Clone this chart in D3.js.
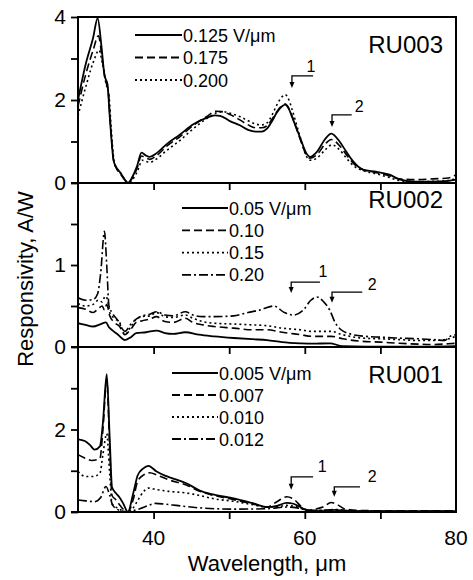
<!DOCTYPE html>
<html><head><meta charset="utf-8">
<script src="https://cdn.jsdelivr.net/npm/d3@7"></script>
<style>
html,body{margin:0;padding:0;background:#fff;}
svg{display:block;font-family:"Liberation Sans",Arial,Helvetica,sans-serif;}
</style></head>
<body><svg id="chart" width="473" height="580"></svg>
<script>
// ---------------- DATA ----------------
const xDomain = [30, 80];
const xTicks = [40, 50, 60, 70];
const xTickLabels = [40, 60, 80];

// RU003
const ru003Legend = ["0.125 V/\u03bcm", "0.175", "0.200"];
const ru003_0125 = [[30,2.0],[31,2.85],[32,3.5],[32.6,3.97],[33.1,3.3],[33.5,2.6],[33.9,2.38],[34.2,1.6],[34.7,0.55],[35,0.4],[35.6,0.25],[36.2,0.08],[36.6,0],[37.2,0.15],[37.8,0.4],[38.4,0.73],[39,0.66],[39.5,0.63],[40.4,0.72],[41.7,0.93],[43.5,1.17],[45.2,1.41],[47,1.57],[48.1,1.63],[48.8,1.62],[50.1,1.49],[51.4,1.39],[52.5,1.28],[53.5,1.24],[54.3,1.24],[55,1.31],[55.7,1.5],[56.3,1.7],[57,1.85],[57.4,1.89],[57.9,1.78],[58.3,1.6],[59.4,1.08],[60.2,0.72],[60.7,0.63],[61.6,0.75],[62.7,1.06],[63.5,1.19],[64.6,1.0],[65.5,0.75],[66.4,0.52],[67.7,0.32],[69.5,0.27],[71.2,0.2],[72.5,0.09],[74.7,0.03],[77,0.03],[79,0.05],[80,0.08]];
const ru003_0175 = [[30,1.85],[31,2.6],[32,3.2],[32.7,3.55],[33.2,3.0],[33.6,2.5],[34,2.2],[34.3,1.4],[34.7,0.55],[35,0.38],[35.6,0.22],[36.2,0.07],[36.6,0],[37.2,0.12],[37.8,0.35],[38.4,0.65],[39,0.6],[39.5,0.57],[40.4,0.66],[41.7,0.88],[43.5,1.12],[45.2,1.38],[47,1.6],[48.3,1.73],[49,1.72],[50.1,1.65],[51.4,1.52],[52.5,1.4],[53.5,1.33],[54.3,1.33],[55,1.38],[55.7,1.55],[56.3,1.72],[57,1.87],[57.4,1.9],[57.9,1.8],[58.3,1.62],[59.4,1.05],[60.2,0.68],[60.7,0.6],[61.6,0.68],[62.7,0.94],[63.5,1.05],[64.6,0.9],[65.5,0.68],[66.4,0.48],[67.7,0.32],[69.5,0.25],[71.2,0.17],[72.5,0.1],[74.7,0.08],[77,0.1],[79,0.12],[80,0.2]];
const ru003_0200 = [[30,1.62],[31,2.3],[32,2.9],[32.8,3.2],[33.2,2.9],[33.7,2.4],[34.1,2.1],[34.4,1.3],[34.8,0.5],[35.2,0.33],[35.8,0.2],[36.3,0.05],[36.7,0],[37.3,0.1],[37.9,0.3],[38.5,0.55],[39,0.52],[39.5,0.5],[40.4,0.58],[41.7,0.78],[43.5,1.03],[45.2,1.3],[47,1.55],[48.5,1.7],[49.2,1.72],[50.1,1.68],[51.4,1.6],[52.5,1.5],[53.5,1.42],[54.3,1.4],[55,1.45],[55.7,1.65],[56.3,1.88],[57,2.08],[57.4,2.13],[57.9,2.0],[58.3,1.78],[59.4,1.1],[60.2,0.65],[60.7,0.55],[61.6,0.6],[62.7,0.8],[63.6,0.92],[64.6,0.8],[65.5,0.6],[66.4,0.42],[67.7,0.3],[69.5,0.22],[71.2,0.13],[72.5,0.06],[74.7,0.03],[77,0.04],[79,0.06],[80,0.12]];

// RU002
const ru002Legend = ["0.05 V/\u03bcm", "0.10", "0.15", "0.20"];
const ru002_005 = [[30,0.29],[31,0.27],[32,0.25],[33,0.28],[33.7,0.30],[34.1,0.24],[34.6,0.2],[35.3,0.15],[36.2,0.085],[37,0.12],[37.7,0.17],[39,0.18],[40.4,0.20],[41.5,0.17],[42.6,0.16],[44.2,0.18],[46,0.15],[48,0.13],[50.6,0.11],[53,0.095],[55,0.085],[57,0.06],[59.4,0.045],[61,0.04],[63.3,0.045],[65,0.01],[68,0.005],[72,0.005],[76,0.005],[80,0.01]];
const ru002_010 = [[30,0.48],[31,0.46],[32,0.42],[32.7,0.47],[33.2,0.5],[33.5,0.45],[33.8,0.52],[34.2,0.38],[34.8,0.3],[35.5,0.25],[36.2,0.15],[37,0.22],[37.7,0.3],[38.5,0.32],[39.5,0.34],[40.4,0.37],[41.5,0.31],[42.6,0.3],[44.2,0.35],[45.2,0.3],[46.5,0.27],[48,0.25],[50.6,0.23],[53,0.21],[55,0.21],[57,0.18],[59.4,0.15],[61,0.13],[63.5,0.13],[65,0.1],[67.5,0.07],[70,0.06],[72.5,0.045],[75,0.035],[77,0.03],[79,0.04],[80,0.045]];
const ru002_015 = [[30,0.53],[31,0.5],[32,0.52],[32.7,0.57],[33.2,0.55],[33.6,0.62],[33.9,0.58],[34.2,0.42],[34.8,0.35],[35.5,0.3],[36.2,0.15],[37,0.25],[37.7,0.34],[38.5,0.37],[39.5,0.38],[40.4,0.42],[41.5,0.37],[42.6,0.36],[44.2,0.39],[45.2,0.35],[46.5,0.31],[48,0.29],[50.6,0.28],[53,0.27],[55,0.26],[57,0.23],[59.4,0.21],[61,0.19],[63.5,0.19],[65,0.15],[67.5,0.11],[70,0.1],[72.5,0.09],[75,0.08],[77,0.08],[79,0.1],[80,0.13]];
const ru002_020 = [[30,0.6],[31,0.57],[32,0.58],[32.6,0.65],[33.0,0.9],[33.5,1.41],[33.8,1.0],[34.1,0.5],[34.5,0.42],[35.3,0.32],[36.2,0.19],[37,0.28],[37.7,0.34],[38.5,0.38],[39.5,0.4],[40.4,0.43],[41.5,0.39],[42.6,0.38],[44.2,0.43],[45.2,0.39],[46.5,0.37],[48,0.37],[50.6,0.38],[52.5,0.42],[54,0.45],[55.9,0.5],[57.3,0.42],[58.5,0.39],[59.8,0.45],[60.8,0.57],[61.6,0.61],[62.5,0.55],[63.3,0.45],[64,0.3],[64.8,0.21],[66,0.16],[68,0.13],[70,0.12],[72,0.11],[75,0.1],[77,0.09],[78.5,0.08],[79.2,0.13],[80,0.15]];

// RU001
const ru001Legend = ["0.005 V/\u03bcm", "0.007", "0.010", "0.012"];
const ru001_0005 = [[30,1.76],[30.9,1.72],[31.6,1.62],[32.2,1.51],[32.9,1.59],[33.3,2.17],[33.8,3.34],[34.2,1.76],[34.5,0.6],[35,0.46],[35.5,0.35],[36,0.2],[36.6,0],[37.3,0.45],[37.9,0.89],[38.6,1.05],[39.3,1.12],[40.4,0.98],[41.5,0.88],[42.6,0.81],[44.4,0.69],[46.1,0.52],[48,0.42],[50.6,0.33],[53,0.22],[55,0.12],[56.3,0.15],[57.6,0.22],[58.5,0.2],[59.4,0.12],[60.5,0.03],[62,0.02],[64,0.05],[66,0.02],[70,0.02],[75,0.02],[80,0.02]];
const ru001_0007 = [[30,1.39],[31,1.3],[31.8,1.25],[32.9,1.3],[33.3,2.0],[33.8,3.2],[34.2,1.5],[34.5,0.4],[35,0.3],[35.6,0.15],[36.6,0],[37.3,0.3],[37.9,0.75],[38.7,0.9],[39.5,0.95],[40.5,0.89],[42,0.78],[44.4,0.65],[46.1,0.5],[48,0.4],[50.6,0.3],[53,0.2],[55,0.12],[56.3,0.25],[57.6,0.37],[58.6,0.3],[59.6,0.12],[60.6,0.04],[61.6,0.08],[62.4,0.12],[63.5,0.23],[64.3,0.18],[65.2,0.08],[67,0.04],[70,0.03],[75,0.03],[80,0.03]];
const ru001_0010 = [[30,0.98],[31,0.86],[32,0.86],[32.9,0.94],[33.3,1.4],[33.8,1.9],[34.2,0.9],[34.5,0.2],[35.2,0.1],[36.6,0],[37.3,0.1],[37.9,0.28],[38.7,0.5],[39.3,0.58],[40.5,0.54],[42,0.5],[44.4,0.46],[46.1,0.4],[48,0.32],[50.6,0.26],[53,0.18],[55,0.12],[56.5,0.13],[57.6,0.16],[58.6,0.14],[60,0.06],[61.5,0.04],[63,0.04],[65,0.03],[70,0.02],[75,0.02],[80,0.02]];
const ru001_0012 = [[30,0.29],[31,0.27],[32.2,0.25],[33,0.35],[33.7,0.62],[34.2,0.4],[34.6,0.16],[35.5,0.04],[36.6,0],[37.3,0.03],[38.2,0.08],[39.2,0.15],[40.3,0.21],[41.5,0.19],[43,0.16],[46.1,0.1],[50.6,0.07],[55,0.08],[57.6,0.12],[59,0.1],[60.5,0.04],[63,0.05],[64,0.06],[66,0.03],[70,0.02],[75,0.02],[80,0.02]];

// peak annotations: [label, xArrow, yLine, xLineEnd, yTip, xLabel, yLabel]
const ru003Peaks = [["1",58.3,2.58,61.1,2.29,60.8,2.67],["2",63.6,1.64,66.2,1.35,67.2,1.71]];
const ru002Peaks = [["1",58.2,0.79,62.0,0.66,62.4,0.85],["2",63.6,0.67,67.6,0.54,68.9,0.70]];
const ru001Peaks = [["1",58.2,0.85,61.1,0.54,62.3,0.98],["2",63.9,0.61,67.3,0.37,68.9,0.73]];

// ---------------- LAYOUT ----------------
const dashes = ["none", "8,4", "2,3", "9,3,2,3"];
const panels = [
  {name:"RU003", top:17, bottom:183, domain:[0,4], ticks:[0,1,2,3,4], labels:[0,2,4],
   series:[ru003_0125, ru003_0175, ru003_0200], legend:ru003Legend, peaks:ru003Peaks,
   legX:135, legLen:47, legY:35, legDy:22.5, nameX:443, nameY:53},
  {name:"RU002", top:183, bottom:347, domain:[0,2], ticks:[0,0.5,1,1.5], labels:[0,1],
   series:[ru002_005, ru002_010, ru002_015, ru002_020], legend:ru002Legend, peaks:ru002Peaks,
   legX:182, legLen:46, legY:208, legDy:22.3, nameX:443, nameY:208},
  {name:"RU001", top:347, bottom:512, domain:[0,4], ticks:[0,1,2,3], labels:[0,2],
   series:[ru001_0005, ru001_0007, ru001_0010, ru001_0012], legend:ru001Legend, peaks:ru001Peaks,
   legX:172, legLen:46, legY:373, legDy:22, nameX:443, nameY:383}
];

const L = 78, R = 456;
const svg = d3.select("#chart");
const x = d3.scaleLinear().domain(xDomain).range([L, R]);

panels.forEach((p, pi) => {
  const y = d3.scaleLinear().domain(p.domain).range([p.bottom, p.top]);
  const g = svg.append("g");
  const clipId = "clip" + pi;
  svg.append("clipPath").attr("id", clipId).append("rect")
    .attr("x", L).attr("y", p.top - 2).attr("width", R - L).attr("height", p.bottom - p.top + 2);

  const line = d3.line().x(d => x(d[0])).y(d => y(d[1])).curve(d3.curveMonotoneX);
  p.series.forEach((s, si) => {
    g.append("path").attr("d", line(s)).attr("fill", "none").attr("stroke", "#000")
      .attr("stroke-width", si === 0 ? 1.8 : 1.6)
      .attr("stroke-dasharray", dashes[si]).attr("clip-path", `url(#${clipId})`);
  });

  // y axis
  const yAxis = d3.axisLeft(y).tickValues(p.ticks).tickSize(7).tickPadding(5)
    .tickFormat(d => p.labels.includes(d) ? d3.format("d")(d) : "");
  const ya = g.append("g").attr("transform", `translate(${L},0)`).call(yAxis);
  ya.select(".domain").remove();
  ya.selectAll("line").attr("stroke-width", 1.8);
  ya.selectAll("text").attr("font-size", 21).attr("font-family", "Liberation Sans, Arial, sans-serif").attr("fill","#000");

  // x axis (bottom of each panel)
  const xAxis = d3.axisBottom(x).tickValues(xTicks).tickSize(7).tickFormat("");
  const xa = g.append("g").attr("transform", `translate(0,${p.bottom})`).call(xAxis);
  xa.select(".domain").remove();
  xa.selectAll("line").attr("stroke-width", 1.8);

  // panel bottom line
  g.append("line").attr("x1", L - 7).attr("x2", R + 1).attr("y1", p.bottom).attr("y2", p.bottom)
    .attr("stroke", "#000").attr("stroke-width", 2);

  // panel name
  g.append("text").attr("x", p.nameX).attr("y", p.nameY).attr("text-anchor", "end")
    .attr("font-size", 24).text(p.name);

  // legend
  p.legend.forEach((t, i) => {
    const ly = p.legY + i * p.legDy;
    g.append("line").attr("x1", p.legX).attr("x2", p.legX + p.legLen).attr("y1", ly).attr("y2", ly)
      .attr("stroke", "#000").attr("stroke-width", 1.8).attr("stroke-dasharray", dashes[i]);
    g.append("text").attr("x", p.legX + p.legLen + 1).attr("y", ly + 6.5)
      .attr("font-size", 18).text(t);
  });

  // peak annotations
  p.peaks.forEach(a => {
    const [lab, xa0, yl, xe, yt, xl, ylab] = a;
    g.append("path")
      .attr("d", `M${x(xe)},${y(yl)}H${x(xa0)}V${y(yt) - 5}`)
      .attr("fill", "none").attr("stroke", "#000").attr("stroke-width", 1.3);
    g.append("path")
      .attr("d", `M${x(xa0) - 2.5},${y(yt) - 6}L${x(xa0) + 2.5},${y(yt) - 6}L${x(xa0)},${y(yt)}Z`)
      .attr("fill", "#000");
    g.append("text").attr("x", x(xl)).attr("y", y(ylab)).attr("text-anchor", "middle")
      .attr("font-size", 16).text(lab);
  });
});

// frame: left axis, right border, top border
svg.append("line").attr("x1", L).attr("x2", L).attr("y1", 16).attr("y2", 513).attr("stroke", "#000").attr("stroke-width", 2);
svg.append("line").attr("x1", R).attr("x2", R).attr("y1", 16).attr("y2", 513).attr("stroke", "#000").attr("stroke-width", 2);
svg.append("line").attr("x1", L).attr("x2", R + 1).attr("y1", 17).attr("y2", 17).attr("stroke", "#000").attr("stroke-width", 2);

// x tick labels on bottom panel
xTickLabels.forEach(v => {
  svg.append("text").attr("x", x(v)).attr("y", 545).attr("text-anchor", "middle")
    .attr("font-size", 21).text(v);
});

// axis titles
svg.append("text").attr("x", 267).attr("y", 571).attr("text-anchor", "middle")
  .attr("font-size", 22).text("Wavelength, \u03bcm");
svg.append("text").attr("transform", "translate(33,279) rotate(-90)").attr("text-anchor", "middle")
  .attr("font-size", 22).text("Responsivity, A/W");
</script></body></html>
